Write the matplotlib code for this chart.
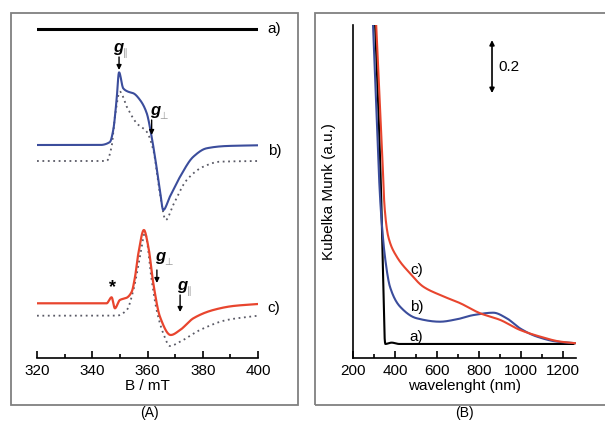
import numpy as np
import matplotlib
matplotlib.use("Agg")
import matplotlib.pyplot as plt
from matplotlib.patches import Rectangle
from matplotlib.ticker import MultipleLocator

plt.rcParams['font.family'] = ['Liberation Sans', 'DejaVu Sans']

# ---- (A) EPR spectra, intensity in a.u. (offset traces) ----
b_field_b = [320, 342.8, 346.4, 347.6, 348.8, 349.7, 351.2, 353.0, 354.9, 357.3, 359.7,
             361.5, 362.7, 364.5, 365.7, 368.1, 371.8, 376.6, 381.4, 388.7, 400]
epr_b = [213, 213, 216, 228, 258, 285.7, 269.7, 266.3, 264.7, 258, 245,
         221.3, 201.3, 168, 148, 161.3, 181.3, 201.3, 209.7, 212, 212.7]

b_field_b_sim = [320, 345.2, 347.0, 348.2, 350.0, 352.5, 356.1, 359.7, 362.1, 364.5,
                 366.6, 369.3, 374.2, 380.2, 386.2, 400]
epr_b_sim = [197, 197, 211.3, 241.3, 266.3, 251.3, 234.7, 226.3, 208, 164.7,
             138, 153, 178, 191.3, 196.3, 197]

b_field_c = [320, 345.2, 347.0, 348.2, 350.0, 352.5, 354.3, 355.5, 356.7, 358.7, 360.3,
             362.1, 364.5, 368.4, 371.8, 376.6, 383.8, 391.0, 400]
epr_c = [54.7, 54.7, 60.7, 49.7, 58, 60.3, 66.3, 81.3, 104.7, 128, 111.3,
         74.7, 41.3, 23, 28, 39.7, 48, 52, 54]

b_field_c_sim = [320, 348.8, 352.5, 354.9, 357.3, 359.1, 361.5, 363.3, 365.7, 368.1,
                 371.8, 379.0, 388.7, 400]
epr_c_sim = [42.3, 42.3, 48, 68, 101.3, 125, 78, 48, 24.7, 12, 16.3, 28, 38, 42.3]

epr_a = 329

# ---- (B) DR UV-vis, Kubelka Munk (a.u.) ----
wl_a = [295, 305, 332, 345, 350, 354, 384, 420, 1250]
km_a = [1.40, 1.21, 0.62, 0.20, 0.03, 0.0, 0.005, 0.0, 0.0]

wl_b = [288, 295, 333, 352, 376, 424, 503, 614, 694, 773, 868, 932,
        995, 1075, 1170, 1257]
km_b = [1.35, 1.21, 0.50, 0.33, 0.216, 0.141, 0.097, 0.084, 0.093, 0.109, 0.118,
        0.097, 0.059, 0.028, 0.009, 0.003]

wl_c = [302, 310, 340, 350, 368, 408, 471, 535, 614, 710, 805, 900, 995,
        1090, 1186, 1257]
km_c = [1.35, 1.21, 0.70, 0.52, 0.405, 0.330, 0.267, 0.216, 0.185, 0.154, 0.116,
        0.091, 0.053, 0.028, 0.009, 0.003]

W, H = 605, 425
fig = plt.figure(figsize=(W / 100, H / 100), dpi=100)


def pchip(x, y, n=600):
    # monotone cubic so the traced points join without overshoot
    x = np.asarray(x, float)
    y = np.asarray(y, float)
    h = np.diff(x)
    d = np.diff(y) / h
    m = np.zeros_like(y)
    for k in range(1, len(x) - 1):
        if d[k - 1] * d[k] > 0:
            w1 = 2 * h[k] + h[k - 1]
            w2 = h[k] + 2 * h[k - 1]
            m[k] = (w1 + w2) / (w1 / d[k - 1] + w2 / d[k])
    m[0], m[-1] = d[0], d[-1]
    xs = np.linspace(x[0], x[-1], n)
    i = np.clip(np.searchsorted(x, xs) - 1, 0, len(x) - 2)
    t = (xs - x[i]) / h[i]
    h00 = 2 * t**3 - 3 * t**2 + 1
    h10 = t**3 - 2 * t**2 + t
    h01 = -2 * t**3 + 3 * t**2
    h11 = t**3 - t**2
    ys = h00 * y[i] + h10 * h[i] * m[i] + h01 * y[i + 1] + h11 * h[i] * m[i + 1]
    return xs, ys


def box(x0, y0, x1, y1):
    # pixel box (top-left origin) -> figure fraction
    return [x0 / W, 1 - y1 / H, (x1 - x0) / W, (y1 - y0) / H]


# panel frames
for (x0, y0, x1, y1) in [(11, 13, 298, 405), (315, 13, 612, 405)]:
    fig.patches.append(Rectangle((x0 / W, 1 - y1 / H), (x1 - x0) / W, (y1 - y0) / H,
                                 transform=fig.transFigure, fill=False,
                                 edgecolor='#808080', linewidth=1.3))

blue = '#3b4d9c'
red = '#e8452e'
dotc = '#5a5a66'

# ---------- panel A ----------
axA = fig.add_axes(box(37, 20, 258, 358))
axA.set_xlim(320, 400)
axA.set_ylim(0, 338)
axA.axhline(epr_a, xmin=0, xmax=1, color='black', lw=2.2)
axA.plot(*pchip(b_field_b_sim, epr_b_sim), ls=(0, (1, 2)), color=dotc, lw=1.3)
axA.plot(*pchip(b_field_b, epr_b), color=blue, lw=1.5)
axA.plot(*pchip(b_field_c_sim, epr_c_sim), ls=(0, (1, 2)), color=dotc, lw=1.3)
axA.plot(*pchip(b_field_c, epr_c), color=red, lw=1.6)

for s in ['top', 'right', 'left']:
    axA.spines[s].set_visible(False)
axA.spines['bottom'].set_linewidth(1.2)
axA.set_yticks([])
axA.xaxis.set_major_locator(MultipleLocator(20))
axA.xaxis.set_minor_locator(MultipleLocator(10))
axA.tick_params(axis='x', which='major', direction='in', length=5, width=1.2,
                labelsize=11, pad=4)
axA.tick_params(axis='x', which='minor', direction='in', length=3, width=1.2)
axA.set_xlabel('B / mT', fontsize=11, labelpad=1)

for lab, yv in [('a)', epr_a), ('b)', 207), ('c)', 50)]:
    axA.text(403.5, yv, lab, fontsize=11, va='center', ha='left', clip_on=False)


def glabel(ax, x, y, sub, xa, ya0, ya1):
    ax.text(x, y, 'g', fontsize=12, fontweight='bold', fontstyle='italic',
            ha='center', va='baseline')
    ax.text(x + 1.6, y - 4, sub, fontsize=7, color='#999999', ha='left',
            va='baseline', family=['DejaVu Sans'])
    ax.annotate('', xy=(xa, ya1), xytext=(xa, ya0),
                arrowprops=dict(arrowstyle='-|>', color='black', lw=1.0,
                                mutation_scale=7, shrinkA=0, shrinkB=0))


glabel(axA, 349.5, 306, '\u2225', 349.7, 301, 288)
glabel(axA, 362.6, 243, '\u22a5', 361.5, 238, 223)
glabel(axA, 364.5, 97, '\u22a5', 363.4, 88, 75)
glabel(axA, 372.5, 68, '\u2225', 371.8, 63, 46)
axA.text(347.2, 70, '*', fontsize=13, fontweight='bold', ha='center', va='center')

fig.text(149 / W, 1 - 413 / H, '(A)', fontsize=10, ha='center', va='center')

# ---------- panel B ----------
axB = fig.add_axes(box(353, 25, 576, 358))
axB.set_xlim(200, 1262)
axB.set_ylim(-0.053, 1.204)
axB.plot(*pchip(wl_a, km_a), color='black', lw=1.5)
axB.plot(*pchip(wl_b, km_b), color=blue, lw=1.5)
axB.plot(*pchip(wl_c, km_c), color=red, lw=1.5)

for s in ['top', 'right']:
    axB.spines[s].set_visible(False)
axB.spines['bottom'].set_linewidth(1.2)
axB.spines['left'].set_linewidth(1.2)
axB.set_yticks([])
axB.xaxis.set_major_locator(MultipleLocator(200))
axB.xaxis.set_minor_locator(MultipleLocator(100))
axB.tick_params(axis='x', which='major', direction='in', length=5, width=1.2,
                labelsize=11, pad=4)
axB.tick_params(axis='x', which='minor', direction='in', length=3, width=1.2)
axB.set_xlabel('wavelenght (nm)', fontsize=11, labelpad=1)
axB.set_ylabel('Kubelka Munk (a.u.)', fontsize=11, labelpad=12)

axB.annotate('', xy=(862, 1.147), xytext=(862, 0.947),
             arrowprops=dict(arrowstyle='<|-|>', color='black', lw=1.2,
                             mutation_scale=7, shrinkA=0, shrinkB=0))
axB.text(890, 1.047, '0.2', fontsize=11, va='center', ha='left')

axB.text(505, 0.28, 'c)', fontsize=11, ha='center', va='center')
axB.text(505, 0.14, 'b)', fontsize=11, ha='center', va='center')
axB.text(500, 0.026, 'a)', fontsize=11, ha='center', va='center')

fig.text(464 / W, 1 - 413 / H, '(B)', fontsize=10, ha='center', va='center')

fig.savefig('out.png', dpi=100)
